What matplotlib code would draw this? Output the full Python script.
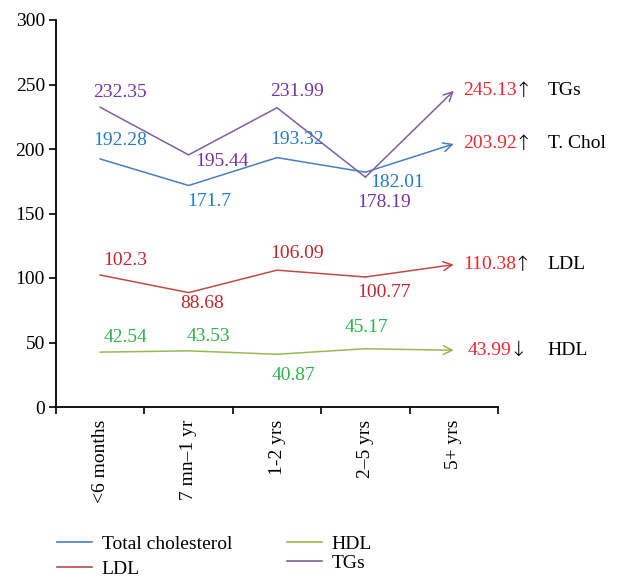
import matplotlib
matplotlib.use("Agg")
import matplotlib.pyplot as plt
from matplotlib.lines import Line2D

categories = ["<6 months", "7 mn\u20131 yr", "1-2 yrs", "2\u20135 yrs", "5+ yrs"]
total_chol = [192.28, 171.7, 193.32, 182.01, 203.92]
ldl = [102.3, 88.68, 106.09, 100.77, 110.38]
hdl = [42.54, 43.53, 40.87, 45.17, 43.99]
tgs = [232.35, 195.44, 231.99, 178.19, 245.13]
yticks = [0, 50, 100, 150, 200, 250, 300]

series_names = ["Total cholesterol", "LDL", "HDL", "TGs"]
short_names = ["T. Chol", "LDL", "HDL", "TGs"]
trend_arrows = ["\u2191", "\u2191", "\u2193", "\u2191"]

FONT = ["Liberation Serif", "DejaVu Serif"]
plt.rcParams["font.family"] = FONT

line_colors = ["#4a7ebb", "#be4b48", "#98b954", "#7d60a0"]
label_colors = ["#2a7ac2", "#c0272d", "#2db34a", "#7535a5"]
red_val = "#f0282d"

# label offsets in pixels (dx, dy) for points 0..3
offsets = [
    [(20, 18), (21, -16), (20, 18), (32, -10)],
    [(25, 15), (14, -11), (20, 17), (19, -15)],
    [(25, 15), (20, 14), (17, -21), (1, 21)],
    [(20, 15), (33, -7), (20, 16), (19, -25)],
]
right_dx = [9, 9, 14, 9]

W, H = 621, 577
fig = plt.figure(figsize=(W / 100, H / 100), dpi=100)
ax = fig.add_axes([56 / W, 1 - 407 / H, (498 - 56) / W, (407 - 20) / H])

xs = list(range(len(categories)))
all_series = [total_chol, ldl, hdl, tgs]
FS = 14

for s, vals in enumerate(all_series):
    c = line_colors[s]
    ax.plot(xs[:-1], vals[:-1], color=c, lw=1.1, solid_joinstyle="miter")
    ax.annotate("", xy=(xs[-1], vals[-1]), xytext=(xs[-2], vals[-2]),
                arrowprops=dict(arrowstyle="->", color=c, lw=1.1,
                                mutation_scale=16, shrinkA=0, shrinkB=0))
    for i in range(len(vals) - 1):
        dx, dy = offsets[s][i]
        ax.annotate(f"{vals[i]:g}", xy=(xs[i], vals[i]), xytext=(dx, dy),
                    textcoords="offset pixels", ha="center", va="center",
                    color=label_colors[s], fontsize=FS)
    t = ax.annotate(f"{vals[-1]:.2f}", xy=(xs[-1], vals[-1]), xytext=(right_dx[s], 0),
                    textcoords="offset pixels", ha="left", va="center",
                    color=red_val, fontsize=FS, annotation_clip=False)
    ax.annotate(trend_arrows[s], xy=(1, 0.5), xycoords=t, xytext=(-2, 0),
                textcoords="offset pixels", ha="left", va="center",
                color="black", fontsize=15, family=["DejaVu Sans"],
                fontweight="light", annotation_clip=False)
    ax.annotate(short_names[s], xy=(xs[-1], vals[-1]), xytext=(94, 0),
                textcoords="offset pixels", ha="left", va="center",
                color="black", fontsize=FS, annotation_clip=False)

ax.set_xlim(-0.5, len(categories) - 0.5)
ax.set_ylim(0, 300)
ax.set_yticks(yticks)
ax.set_xticks([i - 0.5 for i in range(len(categories) + 1)])
ax.set_xticklabels([])
ax.set_xticks(xs, minor=True)
ax.set_xticklabels(categories, minor=True, rotation=90, fontsize=FS)
ax.tick_params(axis="x", which="major", length=5, width=1.2, direction="out")
ax.tick_params(axis="x", which="minor", length=0, pad=9)
ax.tick_params(axis="y", length=5, width=1.2, direction="out", labelsize=FS, pad=3)
for sp in ["top", "right"]:
    ax.spines[sp].set_visible(False)
for sp in ["left", "bottom"]:
    ax.spines[sp].set_linewidth(1.3)

handles = [Line2D([], [], color=c, lw=1.2) for c in line_colors]
leg1 = fig.legend(handles[:2], series_names[:2], loc="upper left",
                  bbox_to_anchor=(57 / W, 1 - 535 / H), frameon=False, fontsize=FS,
                  borderpad=0, borderaxespad=0, handlelength=1.8, handletextpad=0.5,
                  labelspacing=0.4)
leg2 = fig.legend(handles[2:], series_names[2:], loc="upper left",
                  bbox_to_anchor=(287 / W, 1 - 535 / H), frameon=False, fontsize=FS,
                  borderpad=0, borderaxespad=0, handlelength=1.8, handletextpad=0.5,
                  labelspacing=0.1)

fig.savefig("out.png", dpi=100)
